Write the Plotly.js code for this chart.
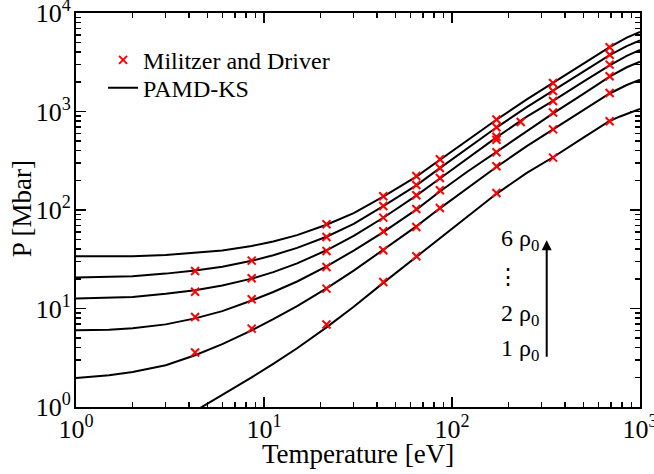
<!DOCTYPE html>
<html><head><meta charset="utf-8">
<script src="https://cdn.plot.ly/plotly-3.0.1.min.js"></script>
<style>html,body{margin:0;padding:0;background:#fff}#chart{width:654px;height:474px}</style>
</head><body><div id="chart"></div><script>
// PAMD-KS curves (temperature in eV, pressure in Mbar)
const curveT = [1, 1.5, 2, 3, 4.3, 6, 8.6, 11.2, 15, 21.5, 30, 43.1, 64.6, 86.2, 120, 172.3, 250, 344.7, 500, 689.4, 850, 1000];
const pamd6 = [33.9, 33.9, 34.0, 34.9, 36.6, 38.9, 43.1, 47.9, 55.6, 70.8, 93.1, 137, 218, 321, 504, 824, 1327, 1963, 3069, 4508, 5623, 6412];
const pamd5 = [20.6, 20.8, 21.2, 22.6, 24.3, 26.6, 30.5, 34.7, 41.3, 53.5, 72.2, 109.6, 178, 266, 419, 687, 1107, 1626, 2541, 3733, 4603, 5284];
const pamd4 = [12.6, 12.8, 13.1, 14.1, 15.3, 17.1, 20.1, 23.4, 28.7, 39.0, 54.5, 83.4, 140, 209, 331, 546, 887, 1282, 2006, 2944, 3673, 4217];
const pamd3 = [6.0, 6.1, 6.3, 6.9, 7.94, 9.4, 12.05, 14.7, 18.8, 26.8, 38.7, 59.7, 101, 154, 243, 388, 631, 957, 1510, 2254, 2812, 3206];
const pamd2 = [1.97, 2.1, 2.27, 2.65, 3.35, 4.35, 6.0, 7.78, 10.6, 16.0, 24.2, 39.4, 68.2, 104, 166, 273, 445, 658, 1037, 1524, 1858, 2099];
const pamd1T = [4.3, 6, 8.6, 11.2, 15, 21.5, 30, 43.1, 64.6, 86.2, 120, 172.3, 250, 344.7, 500, 689.4, 783, 1000];
const pamd1 = [0.91, 1.32, 2.0, 2.74, 3.95, 6.43, 10.4, 18.2, 33.5, 51.8, 85, 146, 238, 343, 542, 801, 891, 1062];

// Militzer and Driver points
const md6T = [21.5, 43.1, 64.6, 86.2, 172.3, 344.7, 689.4];
const md6P = [71.6, 137.8, 221, 327, 828, 1946, 4487];
const md5T = [4.3, 8.6, 21.5, 43.1, 64.6, 86.2, 172.3, 344.7, 689.4];
const md5P = [24.0, 30.6, 53.2, 109.9, 179.6, 267, 691, 1615, 3767];
const md4T = [4.3, 8.6, 21.5, 43.1, 64.6, 86.2, 172.3, 172.3, 232, 344.7, 689.4];
const md4P = [14.8, 20.3, 38.4, 83.7, 141, 211, 554, 516, 782, 1279, 2993];
const md3T = [4.3, 8.6, 21.5, 43.1, 64.6, 86.2, 172.3, 344.7, 689.4];
const md3P = [8.2, 12.4, 26.4, 60.8, 102.4, 158.6, 385, 975, 2277];
const md2T = [4.3, 8.6, 21.5, 43.1, 64.6, 86.2, 172.3, 344.7, 689.4];
const md2P = [3.57, 6.25, 15.9, 39.0, 67.2, 104.8, 278, 659, 1542];
const md1T = [21.5, 43.1, 64.6, 172.3, 344.7, 689.4];
const md1P = [6.87, 18.6, 33.9, 149, 340, 796];

const xTickVals = [1, 10, 100, 1000];
const xTickText = ['10<sup>0</sup>', '10<sup>1</sup>', '10<sup>2</sup>', '10<sup>3</sup>'];
const yTickVals = [1, 10, 100, 1000, 10000];
const yTickText = ['10<sup>0</sup>', '10<sup>1</sup>', '10<sup>2</sup>', '10<sup>3</sup>', '10<sup>4</sup>'];
function minorVals(decades) {
  const v = [];
  for (let d = 0; d < decades; d++) for (let k = 2; k <= 9; k++) v.push(k * Math.pow(10, d));
  return v;
}

const FONT = 'Liberation Serif, Times New Roman, serif';
const lineSets = [
  [curveT, pamd6], [curveT, pamd5], [curveT, pamd4], [curveT, pamd3], [curveT, pamd2], [pamd1T, pamd1]
];
const markSets = [[md6T, md6P], [md5T, md5P], [md4T, md4P], [md3T, md3P], [md2T, md2P], [md1T, md1P]];

const traces = [];
lineSets.forEach((s, i) => traces.push({
  x: s[0], y: s[1], mode: 'lines', type: 'scatter',
  line: {color: '#000', width: 2},
  name: 'PAMD-KS', legend: 'legend2', showlegend: i === 0, hoverinfo: 'skip'
}));
markSets.forEach((s, i) => traces.push({
  x: s[0], y: s[1], mode: 'markers', type: 'scatter',
  marker: {symbol: 'x-thin', size: 8, color: '#ff0000', line: {color: '#ff0000', width: 2}},
  name: 'Militzer and Driver', legend: 'legend', showlegend: i === 0, hoverinfo: 'skip'
}));

const axisCommon = {
  type: 'log', showgrid: false, zeroline: false, showline: true, linewidth: 2, linecolor: '#000',
  mirror: 'allticks', ticks: 'inside', ticklen: 10, tickwidth: 1.5, tickcolor: '#000',
  tickmode: 'array', ticklabeloverflow: 'allow', ticklabelstandoff: -2,
  tickfont: {family: FONT, size: 26, color: '#000'}
};
const legendCommon = {xanchor: 'left', yanchor: 'middle', bgcolor: 'rgba(0,0,0,0)',
  font: {family: FONT, size: 24, color: '#000'}, itemwidth: 30, borderwidth: 0};

const layout = {
  width: 654, height: 474,
  margin: {l: 76, r: 14, t: 13, b: 67, pad: 0},
  paper_bgcolor: '#fff', plot_bgcolor: '#fff',
  font: {family: FONT, color: '#000'},
  xaxis: Object.assign({}, axisCommon, {
    range: [-0.00001, 3.00001], tickvals: xTickVals, ticktext: xTickText,
    minor: {tickmode: 'array', tickvals: minorVals(3), ticks: 'inside', ticklen: 5, tickwidth: 1.5, tickcolor: '#000', showgrid: false}
  }),
  yaxis: Object.assign({}, axisCommon, {
    range: [-0.00001, 4.00001], tickvals: yTickVals, ticktext: yTickText,
    minor: {tickmode: 'array', tickvals: minorVals(4), ticks: 'inside', ticklen: 5, tickwidth: 1.5, tickcolor: '#000', showgrid: false}
  }),
  showlegend: true,
  legend: Object.assign({}, legendCommon, {x: 0.048, y: 0.880}),
  legend2: Object.assign({}, legendCommon, {x: 0.048, y: 0.809}),
  annotations: [
    {xref: 'paper', yref: 'paper', x: 0.5, y: -0.119, xanchor: 'center', yanchor: 'middle', showarrow: false,
     text: 'Temperature [eV]', font: {family: FONT, size: 27, color: '#000'}},
    {xref: 'paper', yref: 'paper', x: -0.0957, y: 0.502, xanchor: 'center', yanchor: 'middle', showarrow: false,
     textangle: -90, text: 'P [Mbar]', font: {family: FONT, size: 27, color: '#000'}},
    {xref: 'paper', yref: 'paper', x: 0.75, y: 0.423, xanchor: 'left', yanchor: 'middle', showarrow: false,
     text: '6 ρ<sub>0</sub>', font: {family: FONT, size: 24, color: '#000'}},
    {xref: 'paper', yref: 'paper', x: 0.766, y: 0.332, xanchor: 'center', yanchor: 'middle', showarrow: false,
     text: '⋮', font: {family: 'DejaVu Serif', size: 22, color: '#000'}},
    {xref: 'paper', yref: 'paper', x: 0.75, y: 0.233, xanchor: 'left', yanchor: 'middle', showarrow: false,
     text: '2 ρ<sub>0</sub>', font: {family: FONT, size: 24, color: '#000'}},
    {xref: 'paper', yref: 'paper', x: 0.75, y: 0.144, xanchor: 'left', yanchor: 'middle', showarrow: false,
     text: '1 ρ<sub>0</sub>', font: {family: FONT, size: 24, color: '#000'}},
    {xref: 'paper', yref: 'paper', x: 0.8346, y: 0.423, text: '', showarrow: true,
     axref: 'pixel', ayref: 'pixel', ax: 0, ay: 118, arrowhead: 2, arrowsize: 1, arrowwidth: 2, arrowcolor: '#000'}
  ]
};

Plotly.newPlot('chart', traces, layout, {displayModeBar: false, staticPlot: true});
</script></body></html>
